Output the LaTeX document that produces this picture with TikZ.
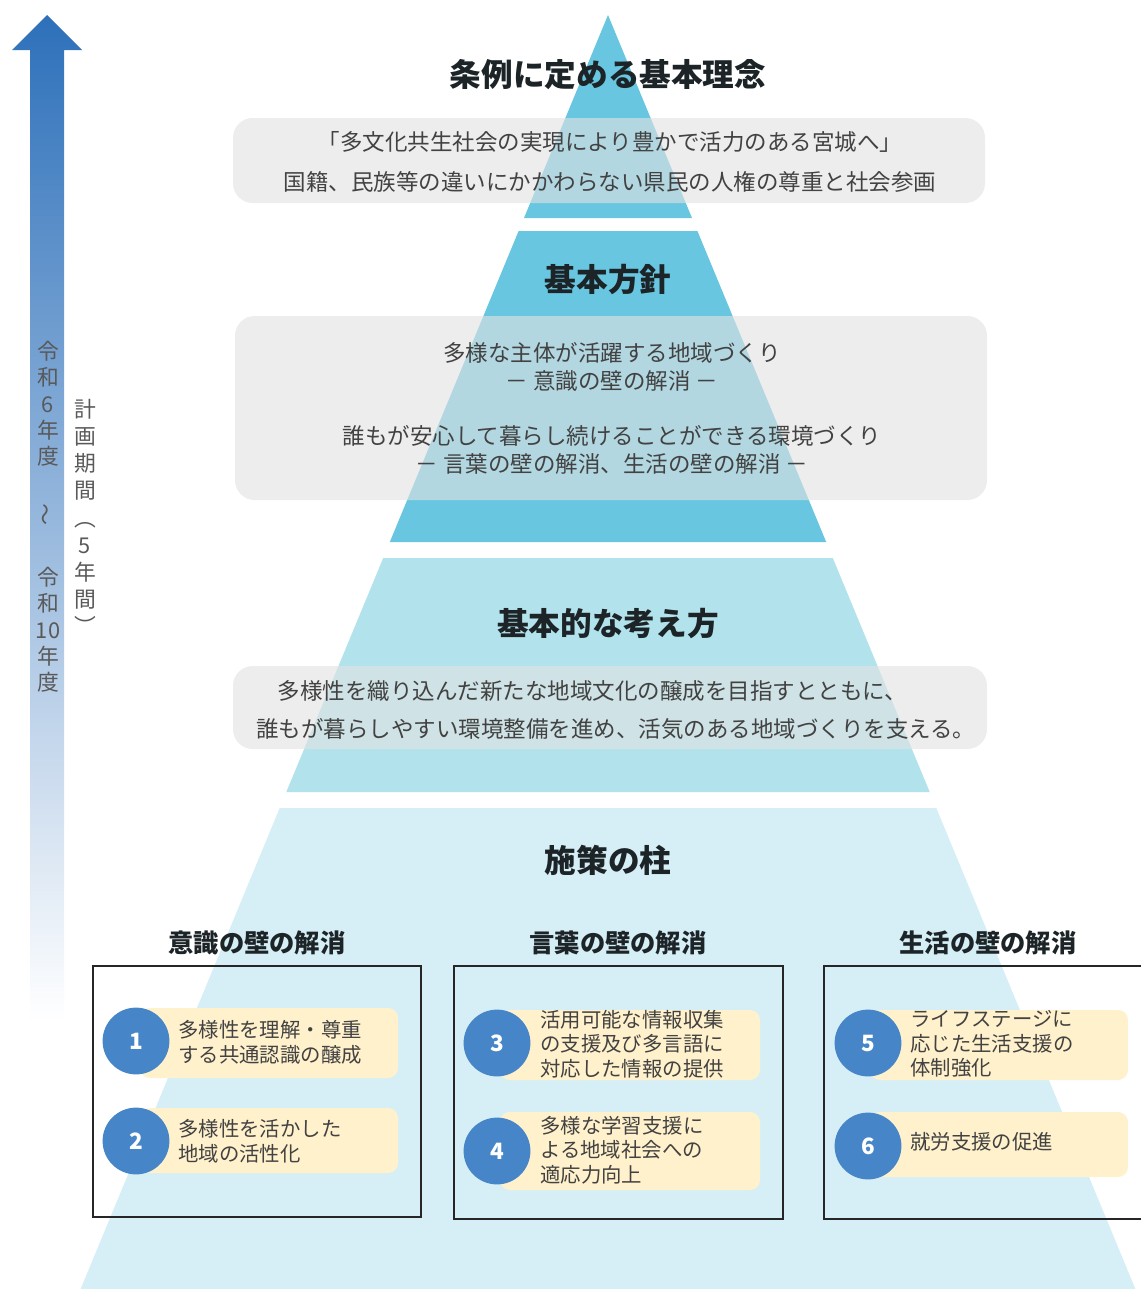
\documentclass[tikz,border=0pt]{standalone}
\usepackage{fontspec}
\setmainfont{Noto Sans CJK JP}
\usepackage{tikz}
\usetikzlibrary{positioning,calc}
\definecolor{tierdark}{RGB}{104,198,224}
\definecolor{tiermid}{RGB}{178,226,236}
\definecolor{tierlight}{RGB}{214,239,246}
\definecolor{panelgray}{RGB}{226,226,226}
\definecolor{arrowblue}{RGB}{45,112,186}
\definecolor{numblue}{RGB}{70,134,200}
\definecolor{itemcream}{RGB}{255,241,204}
\definecolor{inktext}{RGB}{66,66,66}
\definecolor{inktitle}{RGB}{28,36,40}

\tikzset{
  tiertitle/.style={font=\fontsize{22.5}{26}\selectfont\bfseries, text=inktitle},
  pillarhead/.style={font=\fontsize{18}{22}\selectfont\bfseries, text=inktitle},
  paneltext/.style={font=\fontsize{16}{20}\selectfont, text=inktext, align=center, inner sep=0pt},
  panel/.style={fill=panelgray, fill opacity=0.62, rounded corners=14pt},
  pillarbox/.style={draw=black!85, line width=1.4pt},
  itembg/.style={fill=itemcream, rounded corners=7pt},
  numdot/.style={circle, fill=numblue, minimum size=47.5pt, inner sep=0pt, text=white,
    font=\fontsize{16}{16}\selectfont\bfseries},
  itemtext/.style={font=\fontsize{14.5}{17.5}\selectfont, text=inktext, align=left,
    anchor=west, inner sep=0pt},
  vtext/.style={font=\fontsize{15.5}{18.7}\selectfont, text=black!65, align=center, inner sep=0pt}
}

\begin{document}
\begin{tikzpicture}[x=0.025cm, y=-0.025cm]
    \useasboundingbox (0,0) rectangle (1140,1289);

    % Period arrow
    \shade[top color=arrowblue, bottom color=white]
      (30,1022) -- (30,50) -- (12,50) -- (47,15) -- (82,50) -- (64,50) -- (64,1022) -- cycle;
    \node[vtext] (fromyear) at (48,404) {令\\和\\6\\年\\度};
    \node[vtext, rotate=90] (wave) at (48,515) {～};
    \node[vtext] (toyear) at (48,630) {令\\和\\10\\年\\度};
    \node[vtext, font=\fontsize{15.5}{19.3}\selectfont] (period) at (85,517)
      {計\\画\\期\\間\\︵\\5\\年\\間\\︶};

    % Pyramid tiers
    \fill[tierdark] (608,15) -- (692,218) -- (524,218) -- cycle;
    \fill[tierdark] (518.6,231) -- (697.4,231) -- (826.2,542) -- (389.8,542) -- cycle;
    \fill[tiermid] (383.2,558) -- (832.8,558) -- (929.7,792) -- (286.3,792) -- cycle;
    \fill[tierlight] (279.7,808) -- (936.3,808) -- (1135.4,1289) -- (80.6,1289) -- cycle;

    % Gray panels
    \fill[panel] (233,118) rectangle (985,203);
    \fill[panel] (235,316) rectangle (987,500);
    \fill[panel] (233,666) rectangle (987,749);

    % Tier titles
    \node[tiertitle] (rinen) at (608,75) {条例に定める基本理念};
    \node[tiertitle] (hoshin) at (608,280) {基本方針};
    \node[tiertitle] (kangae) at (608,624) {基本的な考え方};
    \node[tiertitle] (hashira) at (608,860) {施策の柱};

    % Panel texts
    \node[paneltext, font=\fontsize{16}{29}\selectfont] (rinentext) at (610,162)
      {「多文化共生社会の実現により豊かで活力のある宮城へ」\\
       国籍、民族等の違いにかかわらない県民の人権の尊重と社会参画};
    \node[paneltext] (hoshintext) at (612,408)
      {多様な主体が活躍する地域づくり\\
       －\ 意識の壁の解消\ －\\[19pt]
       誰もが安心して暮らし続けることができる環境づくり\\
       －\ 言葉の壁の解消、生活の壁の解消\ －};
    \node[paneltext, align=left, anchor=west, font=\fontsize{16}{27.7}\selectfont]
      (kangaetext) at (256,710)
      {\hspace*{0.95em}多様性を織り込んだ新たな地域文化の醸成を目指すとともに、\\
       誰もが暮らしやすい環境整備を進め、活気のある地域づくりを支える。};

    % Pillar headings and frames
    \node[pillarhead] (ishiki) at (257,943) {意識の壁の解消};
    \node[pillarhead] (kotoba) at (618,943) {言葉の壁の解消};
    \node[pillarhead] (seikatsu) at (988,943) {生活の壁の解消};
    \draw[pillarbox] (93,966) rectangle (421,1217);
    \draw[pillarbox] (454,966) rectangle (783,1219);
    \draw[pillarbox] (824,966) rectangle (1150,1219);

    % Measures 1-2
    \fill[itembg] (140,1008) rectangle (398,1078);
    \node[numdot] (n1) at (136,1041) {1};
    \node[itemtext] (t1) at (178,1042) {多様性を理解・尊重\\する共通認識の醸成};
    \fill[itembg] (140,1108) rectangle (398,1173);
    \node[numdot] (n2) at (136,1141) {2};
    \node[itemtext] (t2) at (178,1141) {多様性を活かした\\地域の活性化};

    % Measures 3-4
    \fill[itembg] (500,1010) rectangle (760,1080);
    \node[numdot] (n3) at (497,1043) {3};
    \node[itemtext] (t3) at (540,1044) {活用可能な情報収集\\の支援及び多言語に\\対応した情報の提供};
    \fill[itembg] (500,1112) rectangle (760,1190);
    \node[numdot] (n4) at (497,1151) {4};
    \node[itemtext] (t4) at (540,1150) {多様な学習支援に\\よる地域社会への\\適応力向上};

    % Measures 5-6
    \fill[itembg] (870,1010) rectangle (1128,1080);
    \node[numdot] (n5) at (868,1043) {5};
    \node[itemtext] (t5) at (910,1044) {ライフステージに\\応じた生活支援の\\体制強化};
    \fill[itembg] (870,1112) rectangle (1128,1177);
    \node[numdot] (n6) at (868,1146) {6};
    \node[itemtext] (t6) at (910,1142) {就労支援の促進};
\end{tikzpicture}
\end{document}
